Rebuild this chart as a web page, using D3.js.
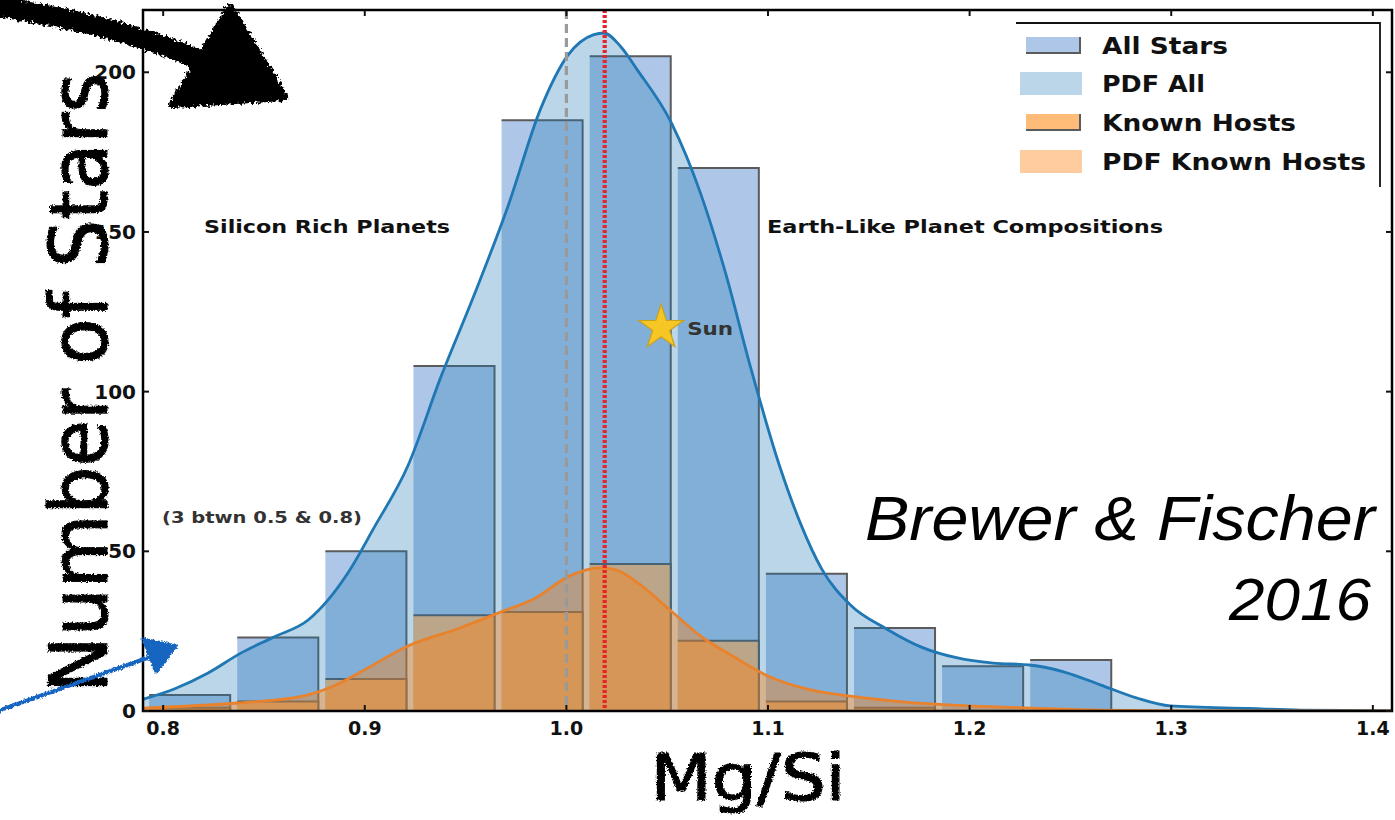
<!DOCTYPE html>
<html>
<head>
<meta charset="utf-8">
<script src="https://cdn.jsdelivr.net/npm/d3@7"></script>
<style>
  body { margin: 0; background: #fff; }
  svg { display: block; }
</style>
</head>
<body>
<svg id="chart" width="1395" height="820"></svg>
<script>
// ---- Histogram bins (Mg/Si) ----
const binEdges = [0.7913, 0.8350, 0.8787, 0.9224, 0.9661, 1.0098, 1.0535, 1.0972, 1.1409, 1.1846, 1.2283, 1.2720];
const allStarsCounts = [5, 23, 50, 108, 185, 205, 170, 43, 26, 14, 16];
const knownHostCounts = [1, 3, 10, 30, 31, 46, 22, 3, 1, 0, 0];

// ---- Kernel density curves, scaled to counts ----
const pdfAllX = [0.789, 0.8055, 0.8223, 0.8387, 0.855, 0.8719, 0.8818, 0.8917, 0.9046, 0.9214, 0.9378, 0.9541, 0.971, 0.9873, 1.0007, 1.0136, 1.0186, 1.027, 1.0349, 1.0522, 1.0666, 1.079, 1.0914, 1.1057, 1.1162, 1.1266, 1.1409, 1.1588, 1.1761, 1.194, 1.2118, 1.2296, 1.247, 1.2648, 1.2827, 1.2995, 1.3391, 1.364, 1.4095];
const pdfAllY = [3.5, 6.9, 11.9, 18.2, 23.2, 28.5, 34.8, 43.3, 57.4, 76.8, 104.7, 130, 158, 188.7, 205.3, 211.8, 212.3, 208, 201, 184, 162, 137, 107.5, 76.8, 58.6, 44.5, 33.2, 25.7, 20, 16.6, 15, 14.4, 12.2, 8.2, 4.1, 1.6, 0.8, 0.3, 0.1];
const pdfHostsX = [0.789, 0.8367, 0.8679, 0.8837, 0.8996, 0.9219, 0.9472, 0.9675, 0.9848, 1.0007, 1.0166, 1.0245, 1.0354, 1.0512, 1.0671, 1.083, 1.0988, 1.1211, 1.1429, 1.1682, 1.1999, 1.2316, 1.2648, 1.3144, 1.4095];
const pdfHostsY = [0.9, 2.5, 4.5, 7.6, 12.8, 20.5, 26, 31, 35.4, 42, 44.8, 44.2, 40.1, 31.7, 23.2, 17, 11.3, 6.6, 4.5, 2.8, 1.6, 0.9, 0.3, 0.05, 0];

// ---- Axes ----
const xDomain = [0.79, 1.4095];
const yDomain = [0, 219.5];
const xTicks = [0.8, 0.9, 1.0, 1.1, 1.2, 1.3, 1.4];
const yTicks = [0, 50, 100, 150, 200];

// ---- Reference markers ----
const referenceLines = [1.0, 1.019];   // solar ratio (grey dashed), sample median (red dotted)
const sunPoint = [1.047, 120];

const legendLabels = ["All Stars", "PDF All", "Known Hosts", "PDF Known Hosts"];

const svg = d3.select("#chart");
const plot = { left: 143, right: 1392, top: 10, bottom: 711 };

const x = d3.scaleLinear().domain(xDomain).range([plot.left, plot.right]);
const y = d3.scaleLinear().domain(yDomain).range([plot.bottom, plot.top]);

const defs = svg.append("defs");
defs.append("clipPath").attr("id", "plotClip")
  .append("rect").attr("x", plot.left).attr("y", plot.top)
  .attr("width", plot.right - plot.left).attr("height", plot.bottom - plot.top);

// pen-like roughness for the hand-drawn annotations
const rough = defs.append("filter").attr("id", "rough")
  .attr("x", "-10%").attr("y", "-10%").attr("width", "120%").attr("height", "120%");
rough.append("feTurbulence").attr("type", "fractalNoise").attr("baseFrequency", 0.6)
  .attr("numOctaves", 2).attr("seed", 3).attr("result", "noise");
rough.append("feDisplacementMap").attr("in", "SourceGraphic").attr("in2", "noise")
  .attr("scale", 4).attr("xChannelSelector", "R").attr("yChannelSelector", "G");

const marker = defs.append("filter").attr("id", "marker")
  .attr("x", "-10%").attr("y", "-10%").attr("width", "120%").attr("height", "120%");
marker.append("feTurbulence").attr("type", "fractalNoise").attr("baseFrequency", 0.35)
  .attr("numOctaves", 2).attr("seed", 7).attr("result", "noise");
marker.append("feDisplacementMap").attr("in", "SourceGraphic").attr("in2", "noise")
  .attr("scale", 8).attr("xChannelSelector", "R").attr("yChannelSelector", "G");

const g = svg.append("g").attr("clip-path", "url(#plotClip)");

const rwidth = 0.92;
const bins = allStarsCounts.map((c, i) => {
  const w = binEdges[i + 1] - binEdges[i];
  const pad = w * (1 - rwidth) / 2;
  return { x0: binEdges[i] + pad, x1: binEdges[i + 1] - pad, all: c, hosts: knownHostCounts[i] };
});

const edgeColor = "#5b5b5b";

function barEdges(sel, key) {
  sel.append("path")
    .attr("d", d => `M${x(d.x0)},${y(d[key])}H${x(d.x1)}V${y(0)}`)
    .attr("fill", "none").attr("stroke", edgeColor).attr("stroke-width", 2);
}

// All stars histogram
const allBars = g.append("g").selectAll("g").data(bins).join("g");
allBars.append("rect")
  .attr("x", d => x(d.x0)).attr("width", d => x(d.x1) - x(d.x0))
  .attr("y", d => y(d.all)).attr("height", d => y(0) - y(d.all))
  .attr("fill", "#aec7e8");
barEdges(allBars, "all");

// Known hosts histogram
const hostBars = g.append("g").selectAll("g").data(bins.filter(d => d.hosts > 0)).join("g");
hostBars.append("rect")
  .attr("x", d => x(d.x0)).attr("width", d => x(d.x1) - x(d.x0))
  .attr("y", d => y(d.hosts)).attr("height", d => y(0) - y(d.hosts))
  .attr("fill", "#ffbb78");
barEdges(hostBars, "hosts");

// Density fills and outlines
const allPdf = pdfAllX.map((v, i) => [v, pdfAllY[i]]);
const hostPdf = pdfHostsX.map((v, i) => [v, pdfHostsY[i]]);
const area = d3.area().x(d => x(d[0])).y0(y(0)).y1(d => y(d[1])).curve(d3.curveMonotoneX);
const line = d3.line().x(d => x(d[0])).y(d => y(d[1])).curve(d3.curveMonotoneX);

g.append("path").attr("d", area(allPdf)).attr("fill", "#1f77b4").attr("fill-opacity", 0.3);
g.append("path").attr("d", area(hostPdf)).attr("fill", "#ff7f0e").attr("fill-opacity", 0.4);
g.append("path").attr("d", line(allPdf)).attr("fill", "none").attr("stroke", "#1f77b4").attr("stroke-width", 2.8);
g.append("path").attr("d", line(hostPdf)).attr("fill", "none").attr("stroke", "#e8822c").attr("stroke-width", 2.8);

// Reference lines
g.append("line").attr("x1", x(referenceLines[0])).attr("x2", x(referenceLines[0]))
  .attr("y1", plot.top).attr("y2", plot.bottom)
  .attr("stroke", "#9a9a9a").attr("stroke-width", 3.2).attr("stroke-dasharray", "9,5");
g.append("line").attr("x1", x(referenceLines[1])).attr("x2", x(referenceLines[1]))
  .attr("y1", plot.top).attr("y2", plot.bottom)
  .attr("stroke", "#e5242b").attr("stroke-width", 4.2).attr("stroke-dasharray", "3,2");

// The Sun
const star = d3.symbol().type(d3.symbolStar).size(620);
svg.append("path").attr("d", star())
  .attr("transform", `translate(${x(sunPoint[0])},${y(sunPoint[1])})`)
  .attr("fill", "#f6c624").attr("stroke", "#c9a21a").attr("stroke-width", 1.2);
svg.append("text").attr("x", x(sunPoint[0]) + 26).attr("y", y(sunPoint[1]) + 7)
  .attr("font-family", "DejaVu Sans").attr("font-weight", "bold").attr("font-size", 18)
  .attr("textLength", 46).attr("lengthAdjust", "spacingAndGlyphs")
  .attr("fill", "#333").text("Sun");

// Frame
svg.append("rect").attr("x", plot.left).attr("y", plot.top)
  .attr("width", plot.right - plot.left).attr("height", plot.bottom - plot.top)
  .attr("fill", "none").attr("stroke", "#000").attr("stroke-width", 2.5);

// Ticks (inward, all four sides)
const tickLen = 6;
const tg = svg.append("g").attr("stroke", "#111").attr("stroke-width", 2);
xTicks.forEach(t => {
  tg.append("line").attr("x1", x(t)).attr("x2", x(t)).attr("y1", plot.bottom).attr("y2", plot.bottom - tickLen);
  tg.append("line").attr("x1", x(t)).attr("x2", x(t)).attr("y1", plot.top).attr("y2", plot.top + tickLen);
});
yTicks.forEach(t => {
  tg.append("line").attr("x1", plot.left).attr("x2", plot.left + tickLen).attr("y1", y(t)).attr("y2", y(t));
  tg.append("line").attr("x1", plot.right).attr("x2", plot.right - tickLen).attr("y1", y(t)).attr("y2", y(t));
});

svg.append("g").selectAll("text").data(xTicks).join("text")
  .attr("x", d => x(d)).attr("y", plot.bottom + 24)
  .attr("text-anchor", "middle").attr("font-family", "DejaVu Sans").attr("font-weight", "bold")
  .attr("font-size", 19).attr("fill", "#111").text(d => d.toFixed(1));
svg.append("g").selectAll("text").data(yTicks).join("text")
  .attr("x", plot.left - 7).attr("y", d => y(d) + 7)
  .attr("text-anchor", "end").attr("font-family", "DejaVu Sans").attr("font-weight", "bold")
  .attr("font-size", 20).attr("fill", "#111").text(d => d);

// Region annotations
const note = (tx, ty, str, size, len, color) => svg.append("text")
  .attr("x", tx).attr("y", ty).attr("font-family", "DejaVu Sans").attr("font-weight", "bold")
  .attr("font-size", size).attr("fill", color || "#111")
  .attr("textLength", len).attr("lengthAdjust", "spacingAndGlyphs").text(str);
note(204, 233, "Silicon Rich Planets", 17, 246);
note(767, 233, "Earth-Like Planet Compositions", 17, 396);
note(162, 523, "(3 btwn 0.5 & 0.8)", 15, 200, "#333");

// Citation
svg.append("text").attr("x", 1375).attr("y", 540).attr("text-anchor", "end")
  .attr("font-family", "Liberation Sans").attr("font-style", "italic").attr("font-size", 63)
  .attr("textLength", 510).attr("lengthAdjust", "spacingAndGlyphs")
  .attr("fill", "#000").text("Brewer & Fischer");
svg.append("text").attr("x", 1371).attr("y", 620).attr("text-anchor", "end")
  .attr("font-family", "Liberation Sans").attr("font-style", "italic").attr("font-size", 60)
  .attr("textLength", 142).attr("lengthAdjust", "spacingAndGlyphs")
  .attr("fill", "#000").text("2016");

// Legend
const lg = svg.append("g");
lg.append("path").attr("d", "M1016,23H1380V187").attr("fill", "none").attr("stroke", "#111").attr("stroke-width", 1.8);
const legendRows = [45, 83, 122, 161];
const legendWidths = [126, 103, 194, 264];
const legendStyle = [
  { fill: "#aec7e8", op: 1, edge: true },
  { fill: "#1f77b4", op: 0.3, edge: false },
  { fill: "#ffbb78", op: 1, edge: true },
  { fill: "#ff7f0e", op: 0.4, edge: false }
];
legendLabels.forEach((lab, i) => {
  const cy = legendRows[i], s = legendStyle[i];
  if (s.edge) {
    lg.append("rect").attr("x", 1026).attr("y", cy - 8).attr("width", 54).attr("height", 16)
      .attr("fill", s.fill).attr("fill-opacity", s.op);
    lg.append("path").attr("d", `M1026,${cy + 8}H1080V${cy - 8}`).attr("fill", "none")
      .attr("stroke", edgeColor).attr("stroke-width", 2);
  } else {
    lg.append("rect").attr("x", 1020).attr("y", cy - 11).attr("width", 62).attr("height", 23)
      .attr("fill", s.fill).attr("fill-opacity", s.op);
  }
  lg.append("text").attr("x", 1102).attr("y", cy + 9)
    .attr("font-family", "DejaVu Sans").attr("font-weight", "bold").attr("font-size", 23)
    .attr("textLength", legendWidths[i]).attr("lengthAdjust", "spacingAndGlyphs")
    .attr("fill", "#111").text(lab);
});

// Hand-drawn axis titles
svg.append("text")
  .attr("transform", "translate(107,383) rotate(-90)")
  .attr("text-anchor", "middle")
  .attr("font-family", "DejaVu Sans").attr("font-size", 80)
  .attr("fill", "#000").attr("stroke", "#000").attr("stroke-width", 1.2)
  .attr("textLength", 620).attr("lengthAdjust", "spacingAndGlyphs")
  .attr("filter", "url(#rough)")
  .text("Number of Stars");
svg.append("text")
  .attr("x", 748).attr("y", 800).attr("text-anchor", "middle")
  .attr("font-family", "DejaVu Sans").attr("font-size", 64)
  .attr("fill", "#000").attr("stroke", "#000").attr("stroke-width", 1.2)
  .attr("textLength", 195).attr("lengthAdjust", "spacingAndGlyphs")
  .attr("filter", "url(#rough)")
  .text("Mg/Si");

// Hand-drawn arrows
const ink = svg.append("g").attr("filter", "url(#marker)");
ink.append("path").attr("d", "M-8,6 C60,16 130,30 205,62")
  .attr("fill", "none").attr("stroke", "#000").attr("stroke-width", 20).attr("stroke-linecap", "round");
ink.append("path").attr("d", "M230,8 L284,97 L173,104 Z")
  .attr("fill", "#000").attr("stroke", "#000").attr("stroke-width", 8).attr("stroke-linejoin", "round");

const blueInk = svg.append("g").attr("filter", "url(#rough)");
blueInk.append("path").attr("d", "M-5,712 L150,657")
  .attr("fill", "none").attr("stroke", "#1565c0").attr("stroke-width", 4);
blueInk.append("path").attr("d", "M143,639 L176,646 L156,672 Z")
  .attr("fill", "#1565c0").attr("stroke", "#1565c0").attr("stroke-width", 3).attr("stroke-linejoin", "round");
</script>
</body>
</html>
